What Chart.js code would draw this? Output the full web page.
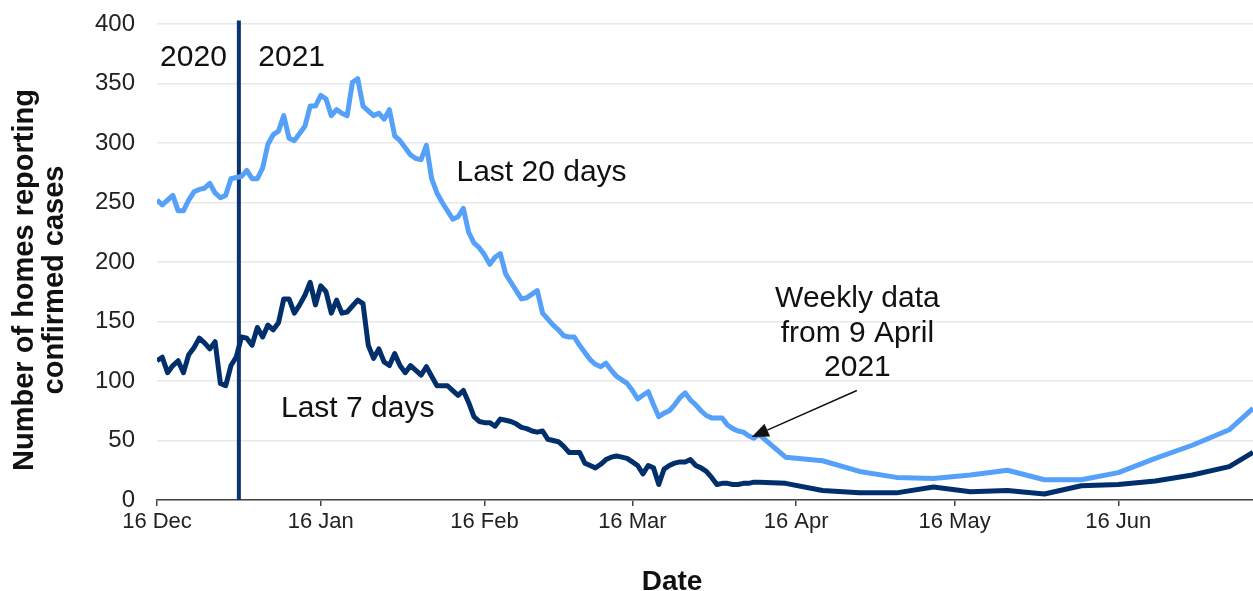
<!DOCTYPE html>
<html>
<head>
<meta charset="utf-8">
<script src="https://cdn.jsdelivr.net/npm/chart.js@4.4.1/dist/chart.umd.min.js"></script>
<style>
  html, body { margin: 0; padding: 0; background: #fff; }
  #wrap { width: 1253px; height: 591px; }
</style>
</head>
<body>
<div id="wrap"><canvas id="myChart" width="1253" height="591"></canvas></div>
<script>
// x values are days since 16 Dec 2020
const tickDays = [0, 31, 62, 90, 121, 151, 182];
const tickLabels = ['16 Dec', '16 Jan', '16 Feb', '16 Mar', '16 Apr', '16 May', '16 Jun'];

// daily values, 16 Dec 2020 to 9 Apr 2021 (one per day)
const dailyLast20 = [
  252, 248, 252, 256, 243, 243, 252, 259, 261, 262,
  266, 258, 254, 256, 270, 271, 272, 277, 270, 270,
  279, 299, 307, 310, 323, 304, 302, 308, 314, 331,
  331, 340, 337, 323, 328, 325, 323, 351, 354, 331,
  327, 323, 325, 320, 328, 306, 302, 296, 290, 287,
  286, 298, 270, 258, 250, 243, 236, 238, 245, 225,
  216, 212, 206, 198, 204, 207, 190, 183, 176, 169,
  170, 173, 176, 157, 152, 147, 143, 138, 137, 137,
  130, 124, 118, 114, 112, 115, 109, 104, 101, 98,
  92, 85, 88, 91, 80, 70, 73, 75, 80, 86,
  90, 84, 80, 75, 71, 69, 69, 69, 63, 60,
  58, 57, 54, 52, 55
];
const dailyLast7 = [
  117, 120, 107, 113, 117, 107, 122, 128, 136, 132,
  127, 133, 98, 96, 113, 120, 137, 136, 130, 145,
  137, 147, 143, 149, 169, 169, 157, 164, 172, 183,
  164, 180, 175, 157, 168, 157, 158, 163, 168, 165,
  130, 119, 127, 116, 113, 123, 113, 107, 113, 109,
  105, 112, 104, 96, 96, 96, 92, 88, 92, 82,
  70, 66, 65, 65, 62, 68, 67, 66, 64, 61,
  60, 58, 57, 58, 51, 50, 49, 45, 40, 40,
  40, 31, 29, 27, 30, 34, 36, 37, 36, 35,
  32, 29, 22, 29, 27, 13, 26, 29, 31, 32,
  32, 34, 29, 27, 24, 19, 13, 14, 14, 13,
  13, 14, 14, 15, 15
];

// weekly values after 9 April
const weeklyDays = [119, 126, 133, 140, 147, 154, 161, 168, 175, 182, 189, 196, 203, 207.5];
const weeklyLast20 = [36, 33, 24, 19, 18, 21, 25, 17, 17, 23, 35, 46, 59, 77];
const weeklyLast7 = [14, 8, 6, 6, 11, 7, 8, 5, 12, 13, 16, 21, 28, 40];

const yearSplitDay = 15.5;

function buildSeries(daily, weekly) {
  const pts = daily.map((v, i) => ({x: i, y: v}));
  weekly.forEach((v, i) => pts.push({x: weeklyDays[i], y: v}));
  return pts;
}

const lightBlue = '#55a0f8';
const navy = '#002f6c';
const font = "'Liberation Sans', Arial, sans-serif";

const annotations = {
  id: 'annotations',
  beforeDatasetsDraw(chart) {
    const {ctx, scales: {x, y}} = chart;
    ctx.save();
    ctx.strokeStyle = '#0b3370';
    ctx.lineWidth = 4;
    ctx.beginPath();
    ctx.moveTo(x.getPixelForValue(yearSplitDay), y.getPixelForValue(0));
    ctx.lineTo(x.getPixelForValue(yearSplitDay), y.getPixelForValue(403));
    ctx.stroke();
    ctx.restore();
  },
  afterDatasetsDraw(chart) {
    const {ctx, scales: {x, y}} = chart;
    ctx.save();
    ctx.fillStyle = '#111';
    ctx.font = '30px ' + font;
    ctx.textAlign = 'center';
    ctx.textBaseline = 'middle';
    const put = (t, dx, vy) => ctx.fillText(t, x.getPixelForValue(dx), y.getPixelForValue(vy));
    put('2020', 6.9, 372);
    put('2021', 25.5, 372);
    put('Last 20 days', 72.8, 275);
    put('Last 7 days', 38, 77);
    put('Weekly data', 132.6, 169);
    put('from 9 April', 132.6, 140);
    put('2021', 132.6, 111);

    // arrow
    const x0 = x.getPixelForValue(132.5), y0 = y.getPixelForValue(92);
    const x1 = x.getPixelForValue(112.6), y1 = y.getPixelForValue(53);
    const ang = Math.atan2(y1 - y0, x1 - x0);
    const hl = 17, hw = 7;
    ctx.strokeStyle = '#111';
    ctx.lineWidth = 1.5;
    ctx.beginPath();
    ctx.moveTo(x0, y0);
    ctx.lineTo(x1 - Math.cos(ang) * hl, y1 - Math.sin(ang) * hl);
    ctx.stroke();
    ctx.beginPath();
    ctx.moveTo(x1, y1);
    ctx.lineTo(x1 - Math.cos(ang) * hl - Math.sin(ang) * hw, y1 - Math.sin(ang) * hl + Math.cos(ang) * hw);
    ctx.lineTo(x1 - Math.cos(ang) * hl + Math.sin(ang) * hw, y1 - Math.sin(ang) * hl - Math.cos(ang) * hw);
    ctx.closePath();
    ctx.fill();
    ctx.restore();
  },
  afterDraw(chart) {
    const {ctx} = chart;
    ctx.save();
    ctx.fillStyle = '#111';
    ctx.font = 'bold 29px ' + font;
    ctx.textAlign = 'center';
    ctx.textBaseline = 'alphabetic';
    ctx.translate(0, 280);
    ctx.rotate(-Math.PI / 2);
    ctx.fillText('Number of homes reporting', 0, 33);
    ctx.fillText('confirmed cases', 0, 63);
    ctx.restore();
    ctx.save();
    ctx.fillStyle = '#111';
    ctx.font = 'bold 28px ' + font;
    ctx.textAlign = 'center';
    ctx.fillText('Date', 672, 590);
    ctx.restore();
  }
};

new Chart(document.getElementById('myChart').getContext('2d'), {
  type: 'line',
  data: {
    datasets: [
      {
        label: 'Last 20 days',
        data: buildSeries(dailyLast20, weeklyLast20),
        borderColor: lightBlue,
        borderWidth: 5,
        pointRadius: 0,
        tension: 0,
        borderJoinStyle: 'round'
      },
      {
        label: 'Last 7 days',
        data: buildSeries(dailyLast7, weeklyLast7),
        borderColor: navy,
        borderWidth: 5,
        pointRadius: 0,
        tension: 0,
        borderJoinStyle: 'round'
      }
    ]
  },
  options: {
    responsive: false,
    animation: false,
    layout: { padding: { top: 24, right: 0, left: 0, bottom: 0 } },
    plugins: { legend: { display: false }, tooltip: { enabled: false } },
    scales: {
      x: {
        type: 'linear',
        min: 0,
        max: 207.5,
        afterBuildTicks: (scale) => { scale.ticks = tickDays.map(v => ({value: v})); },
        afterFit: (scale) => { scale.height = 91; },
        ticks: {
          callback: (v, i) => tickLabels[i],
          font: { family: font, size: 22 },
          color: '#222',
          padding: 3,
          maxRotation: 0,
          autoSkip: false
        },
        grid: { drawOnChartArea: false, drawTicks: true, tickLength: 6, color: '#444', lineWidth: 1.5 },
        border: { display: true, color: '#444', width: 1.5 }
      },
      y: {
        min: 0,
        max: 400,
        afterFit: (scale) => {
          scale.width = 157;
          scale.paddingTop = 0;
          scale.paddingBottom = 0;
        },
        ticks: {
          stepSize: 50,
          font: { family: font, size: 24 },
          color: '#222',
          padding: 22
        },
        grid: { color: '#e8e8e8', lineWidth: 1.5, drawTicks: false },
        border: { display: false }
      }
    }
  },
  plugins: [annotations]
});
</script>
</body>
</html>
